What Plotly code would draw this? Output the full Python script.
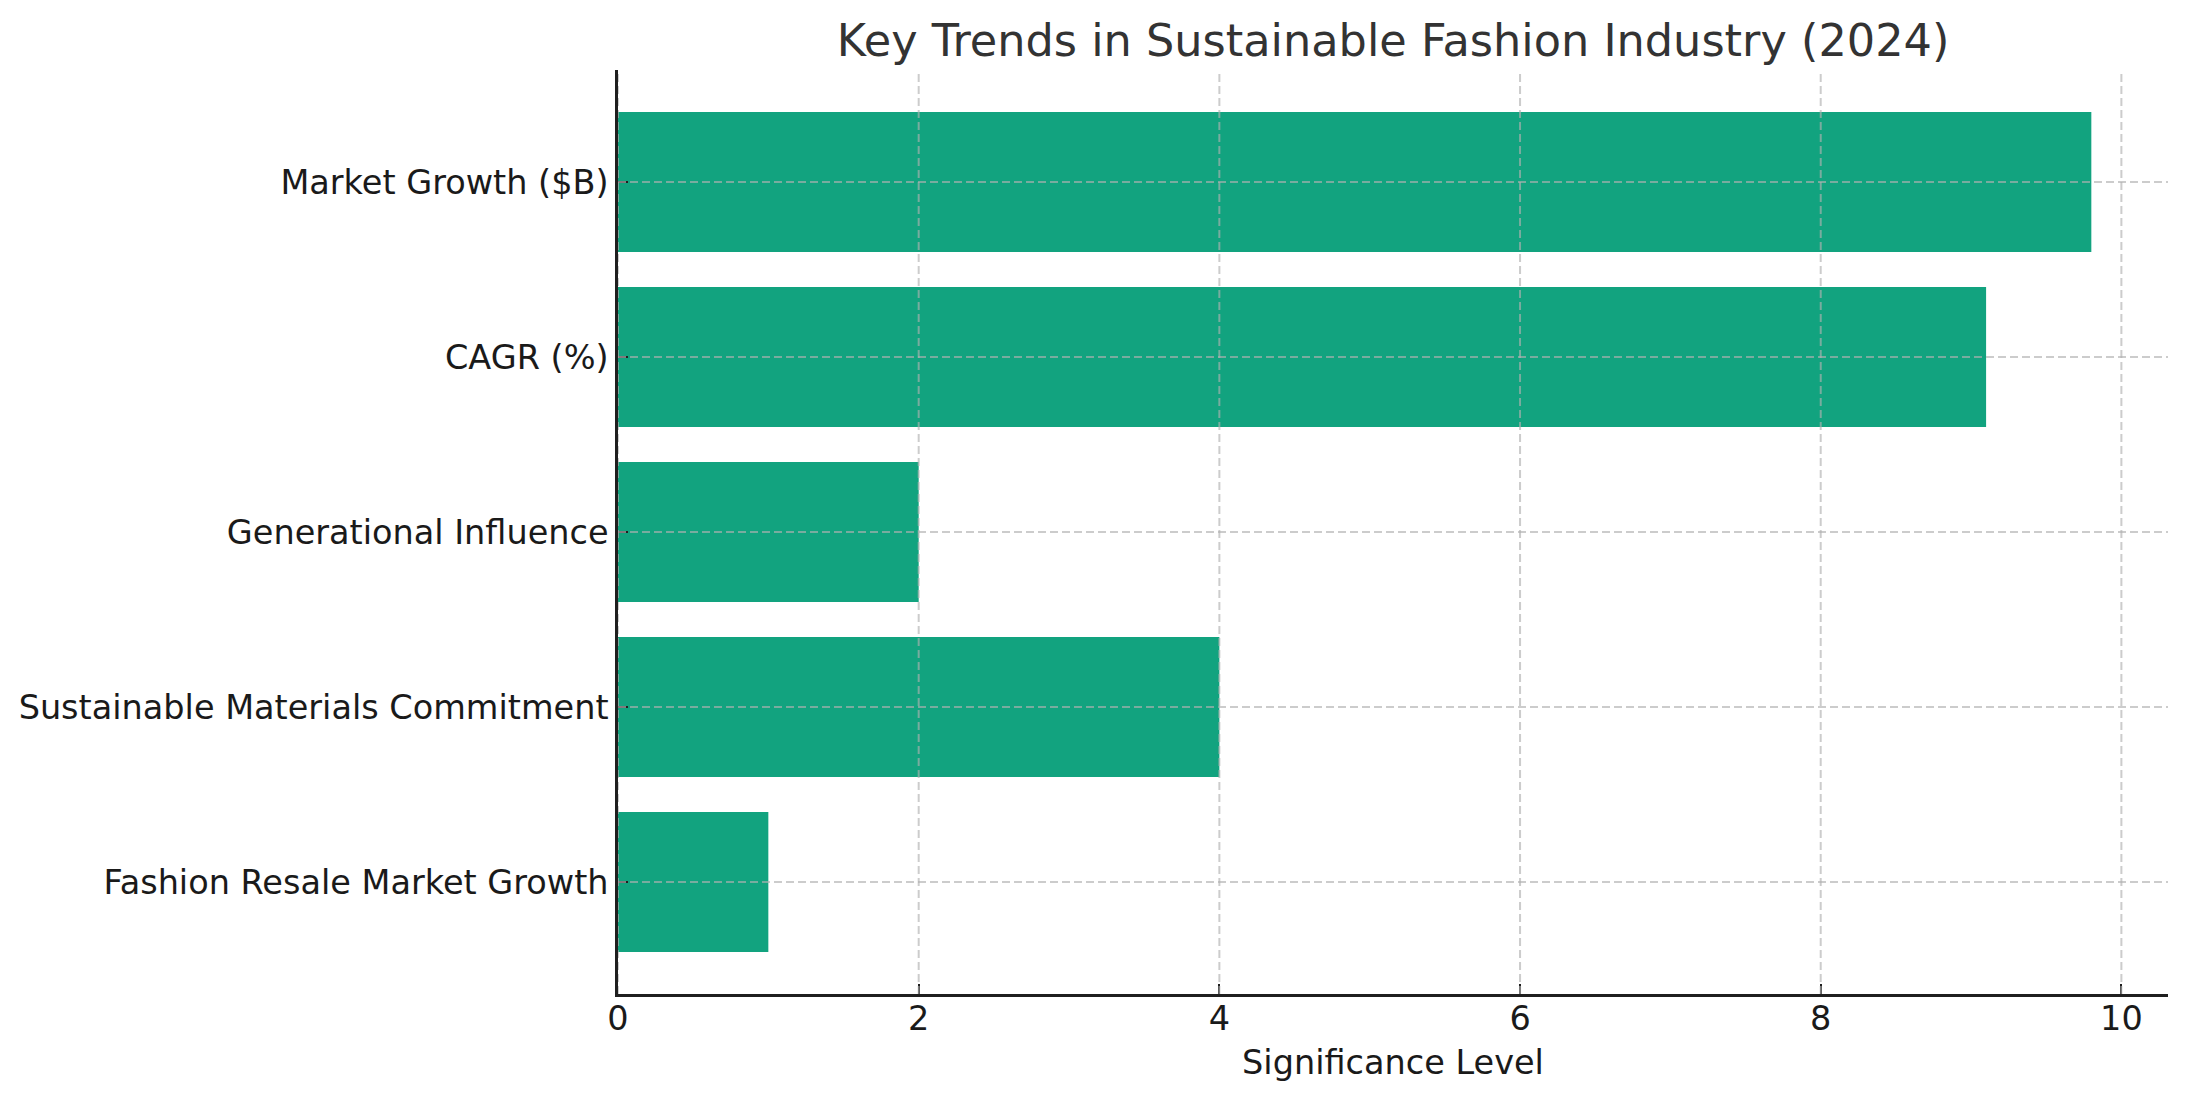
import plotly.graph_objects as go

categories = ["Market Growth ($B)", "CAGR (%)", "Generational Influence",
              "Sustainable Materials Commitment", "Fashion Resale Market Growth"]
values = [9.8, 9.1, 2, 4, 1]
x_ticks = [0, 2, 4, 6, 8, 10]

FONT = "DejaVu Sans"
fig = go.Figure()
fig.add_trace(go.Bar(
    x=values, y=categories, orientation="h",
    marker=dict(color="#12a37f", line=dict(width=0)),
    width=0.8,
))

grid = dict(color="rgba(176,176,176,0.65)", width=2, dash="8px,4px")
shapes = []
for t in x_ticks:
    shapes.append(dict(type="line", xref="x", yref="paper", x0=t, x1=t, y0=0, y1=1,
                       line=grid, layer="above"))
for c in categories:
    shapes.append(dict(type="line", xref="paper", yref="y", x0=0, x1=1, y0=c, y1=c,
                       line=grid, layer="above"))

fig.update_layout(
    width=2186, height=1101,
    margin=dict(l=618, r=18, t=70, b=107),
    paper_bgcolor="white", plot_bgcolor="white",
    font=dict(family=FONT, size=33.5, color="#1a1a1a"),
    title=dict(text="Key Trends in Sustainable Fashion Industry (2024)",
               font=dict(family=FONT, size=44.6, color="#333333"),
               x=0.5, xref="paper", xanchor="center",
               y=1, yref="paper", yanchor="bottom", pad=dict(b=14)),
    showlegend=False,
    bargap=0.2,
    shapes=shapes,
    xaxis=dict(range=[0, 10.31], tickvals=x_ticks, showgrid=False, zeroline=False,
               showline=True, linecolor="#1f1f1f", linewidth=2.5,
               ticks="inside", ticklen=10, tickwidth=2, tickcolor="#1f1f1f",
               ticklabelstandoff=-7,
               title=dict(text="Significance Level", font=dict(size=33.5), standoff=14)),
    yaxis=dict(categoryorder="array", categoryarray=categories,
               range=[4.64, -0.64], showgrid=False, zeroline=False,
               showline=True, linecolor="#1f1f1f", linewidth=2.5,
               ticks="inside", ticklen=10, tickwidth=2, tickcolor="#1f1f1f",
               ticklabelstandoff=0),
)

fig.write_html("out.html", config={"displayModeBar": False},
               post_script="document.body.style.margin='0';document.body.style.overflow='hidden';")
